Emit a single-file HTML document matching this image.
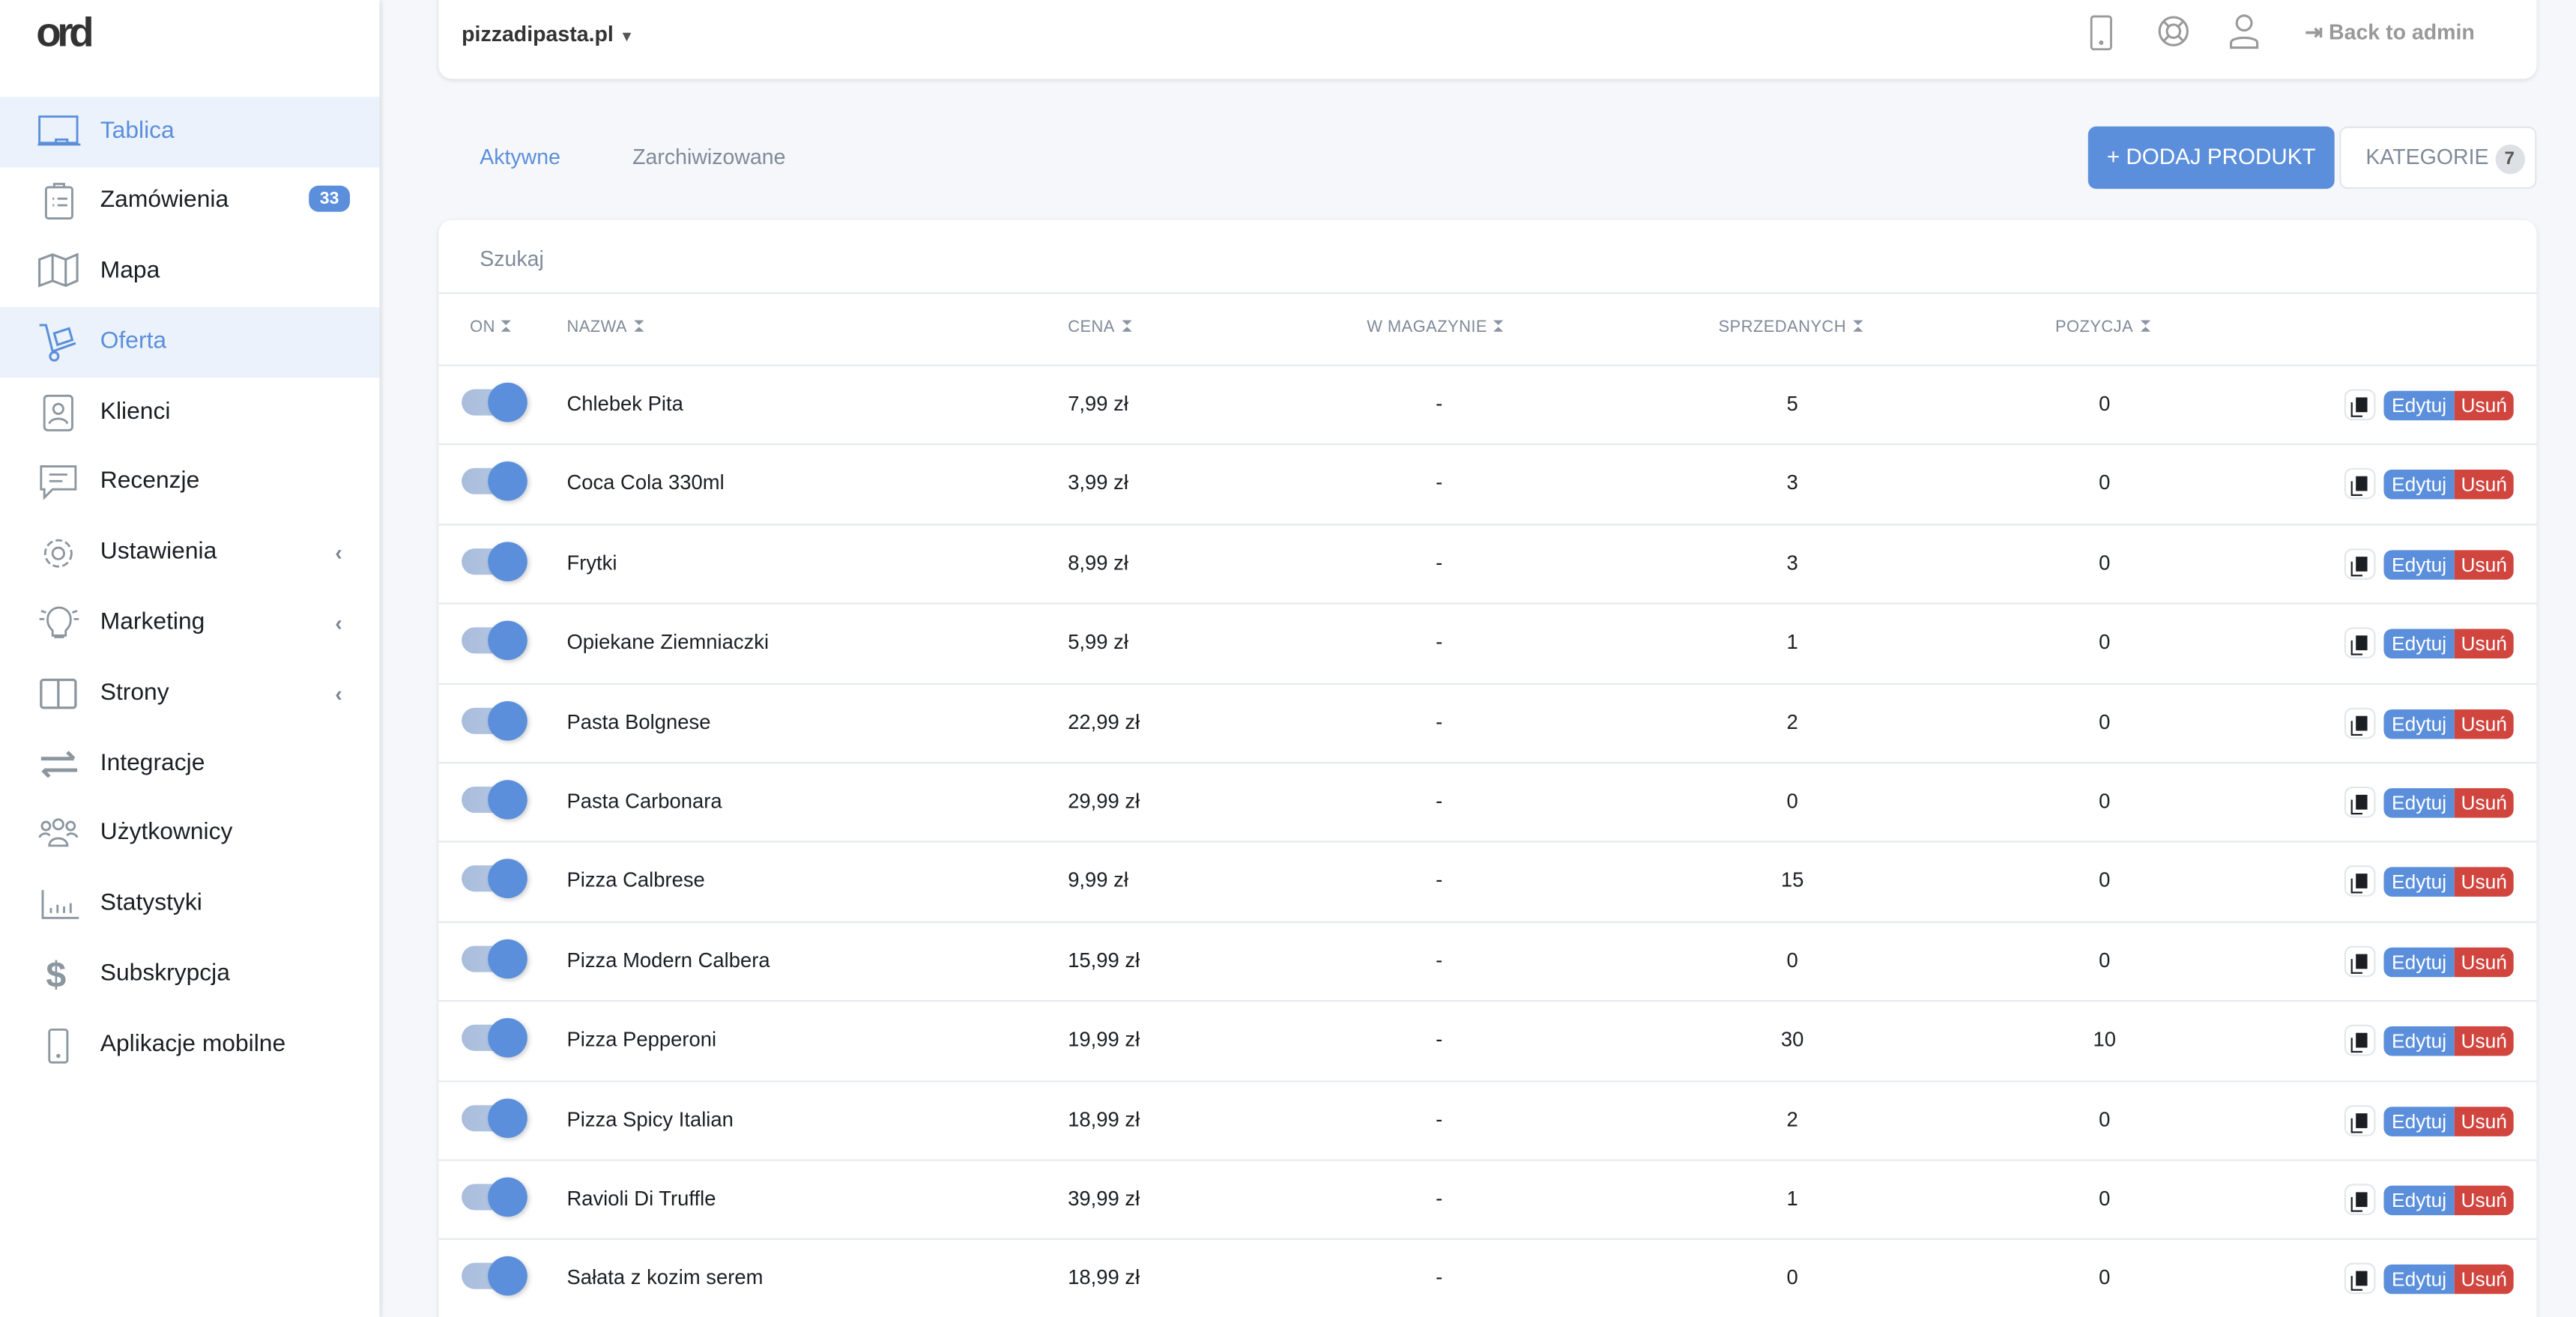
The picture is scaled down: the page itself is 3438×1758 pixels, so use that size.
<!DOCTYPE html>
<html><head><meta charset="utf-8"><style>
*{margin:0;padding:0;box-sizing:border-box}
html,body{width:3438px;height:1758px;overflow:hidden;background:#f6f7fb;font-family:"Liberation Sans",sans-serif}
#w{position:absolute;left:0;top:0;width:3438px;height:1758px;overflow:hidden}
#s{position:absolute;left:0;top:0;width:1568px;height:802px;overflow:hidden;transform:scale(2.19260,2.1920);transform-origin:0 0}
.a{position:absolute}
.side{left:0;top:0;width:231px;height:802px;background:#fff;box-shadow:1px 0 3px rgba(0,0,0,.12)}
.it{position:absolute;left:0;width:231px;height:43px;font-size:14.5px;color:#1b1f24;line-height:43px}
.it.on{background:#ecf2fb;color:#5b8fdb}
.it span{position:absolute;left:61px}
.it svg{position:absolute;left:23px;top:10px}
.chev{position:absolute;left:204px;color:#7b8591;font-size:13px;font-weight:bold}
.card{background:#fff;border-radius:8px;box-shadow:0 1px 3px rgba(0,0,0,.1)}
.row{position:absolute;left:267px;width:1277px;height:48.4px;border-top:1px solid #e6e9ee;font-size:12.5px;color:#1b1f24}
.row div{position:absolute;top:16px}
.tg{left:14px;top:14px!important;width:38px;height:16px;border-radius:8px;background:linear-gradient(90deg,#a9bcdb,#b9cde8)}
.tg i{position:absolute;right:-2px;top:-4px;width:24px;height:24px;border-radius:50%;background:#5b8fdb;box-shadow:1px 1px 3px rgba(0,0,0,.2)}
.c{text-align:center;width:60px}
.cp{left:1160px;top:14px!important;width:19px;height:19px;border:1px solid #e3e6ea;border-radius:5px;background:#fff}
.cp b{position:absolute;left:6px;top:4px;width:7px;height:9px;background:#1b1f24;box-shadow:-2px 2px 0 -0 #fff,-3px 3px 0 #1b1f24}
.ed{left:1184px;top:15px!important;width:43px;height:18px;background:#5b8fdb;color:#fff;border-radius:5px 0 0 5px;text-align:center;line-height:18px;font-size:12px}
.us{left:1227px;top:15px!important;width:36px;height:18px;background:#d1453f;color:#fff;border-radius:0 5px 5px 0;text-align:center;line-height:18px;font-size:12px}
.th{position:absolute;top:194px;font-size:10px;color:#7f8a99;letter-spacing:.2px}
.th:after{content:"";display:inline-block;margin-left:4px;width:0;height:0;border-left:3px solid transparent;border-right:3px solid transparent;border-bottom:3px solid #8b95a3;border-top:3px solid #8b95a3;height:1px;vertical-align:0px}
</style></head><body><div id="w"><div id="s">
<div class="a side">
<div class="a" style="left:22px;top:6px;font-size:25px;font-weight:bold;color:#333;letter-spacing:-2.5px">ord</div>
<div class="it on" style="top:59px"><svg width="26" height="22" viewBox="0 0 26 22" fill="none" stroke="#5b8fdb" stroke-width="1.3"><rect x="1" y="2" width="23" height="16"/><path d="M0 19h26M11 19v-3h7v3"/></svg><span>Tablica</span></div>
<div class="it" style="top:101px"><svg width="26" height="24" viewBox="0 0 26 24" fill="none" stroke="#8c969f" stroke-width="1.3"><rect x="5" y="3" width="16" height="19" rx="1.5"/><path d="M10 3V1h6v2M9 10h1M12 10h6M9 14h1M12 14h6"/></svg><span>Zamówienia</span><div class="a" style="left:188px;top:12px;width:25px;height:16px;border-radius:6px;background:#5b8fdb;color:#fff;font-size:10.5px;font-weight:bold;text-align:center;line-height:16px">33</div></div>
<div class="it" style="top:144px"><svg width="26" height="22" viewBox="0 0 26 22" fill="none" stroke="#8c969f" stroke-width="1.4"><path d="M1 4l8-3 8 3 7-3v16l-7 3-8-3-8 3z M9 1v16M17 4v16"/></svg><span>Mapa</span></div>
<div class="it on" style="top:187px"><svg width="26" height="24" viewBox="0 0 26 24" fill="none" stroke="#5b8fdb" stroke-width="1.4"><path d="M1 1h4l4 16 14-5M10 6l9-3 2 7-9 3z"/><circle cx="10" cy="20" r="2.5"/></svg><span>Oferta</span></div>
<div class="it" style="top:230px"><svg width="26" height="24" viewBox="0 0 26 24" fill="none" stroke="#8c969f" stroke-width="1.3"><rect x="4" y="1" width="17" height="21" rx="2"/><circle cx="12.5" cy="9" r="3"/><path d="M7 18c1-4 10-4 11 0"/></svg><span>Klienci</span></div>
<div class="it" style="top:272px"><svg width="26" height="24" viewBox="0 0 26 24" fill="none" stroke="#8c969f" stroke-width="1.3"><path d="M2 2h21v14H9l-5 5v-5H2z M7 7h11M7 11h8"/></svg><span>Recenzje</span></div>
<div class="it" style="top:315px"><svg width="26" height="24" viewBox="0 0 26 24" fill="none" stroke="#8c969f" stroke-width="1.3"><circle cx="12.5" cy="12" r="3.5"/><circle cx="12.5" cy="12" r="8" stroke-dasharray="4 2"/></svg><span>Ustawienia</span><div class="chev">‹</div></div>
<div class="it" style="top:358px"><svg width="26" height="24" viewBox="0 0 26 24" fill="none" stroke="#8c969f" stroke-width="1.3"><path d="M9 16c-3-3-3-5-3-7a7 7 0 0114 0c0 2 0 4-3 7v3h-8zM10 20h6M1 9h3M22 9h3M2 4l3 1M24 4l-3 1"/></svg><span>Marketing</span><div class="chev">‹</div></div>
<div class="it" style="top:401px"><svg width="26" height="24" viewBox="0 0 26 24" fill="none" stroke="#8c969f" stroke-width="1.5"><rect x="2" y="3" width="21" height="17" rx="1.5"/><path d="M12.5 3v17"/></svg><span>Strony</span><div class="chev">‹</div></div>
<div class="it" style="top:444px"><svg width="26" height="24" viewBox="0 0 26 24" fill="none" stroke="#8c969f" stroke-width="2.2"><path d="M2 8h20M18 4l4 4M24 15H4M7 19l-4-4"/></svg><span>Integracje</span></div>
<div class="it" style="top:486px"><svg width="26" height="24" viewBox="0 0 26 24" fill="none" stroke="#8c969f" stroke-width="1.3"><circle cx="5" cy="7" r="2.5"/><circle cx="12.5" cy="6" r="3"/><circle cx="20" cy="7" r="2.5"/><path d="M1 14c1-3 6-3 6-1M24 14c-1-3-6-3-6-1M7 19c0-6 11-6 11 0z"/></svg><span>Użytkownicy</span></div>
<div class="it" style="top:529px"><svg width="26" height="24" viewBox="0 0 26 24" fill="none" stroke="#8c969f" stroke-width="1.3"><path d="M3 3v17h22M8 17v-3M12 17v-5M16 17v-4M20 17v-6"/></svg><span>Statystyki</span></div>
<div class="it" style="top:572px"><span style="left:28px;font-size:22px;font-weight:bold;color:#8c969f">$</span><span>Subskrypcja</span></div>
<div class="it" style="top:615px"><svg width="26" height="24" viewBox="0 0 26 24" fill="none" stroke="#8c969f" stroke-width="1.3"><rect x="7" y="2" width="11" height="20" rx="1.5"/><circle cx="12.5" cy="18" r=".6"/></svg><span>Aplikacje mobilne</span></div>
</div>

<div class="a card" style="left:267px;top:-10px;width:1277px;height:58px;border-radius:0 0 8px 8px"></div>
<div class="a" style="left:281px;top:13px;font-size:13px;font-weight:bold;color:#333">pizzadipasta.pl <span style="font-size:9px;color:#555">▼</span></div>
<svg class="a" style="left:1271px;top:9px" width="16" height="22" viewBox="0 0 16 22" fill="none" stroke="#999" stroke-width="1.3"><rect x="2" y="1" width="12" height="20" rx="1.5"/><circle cx="8" cy="17" r=".7"/></svg>
<svg class="a" style="left:1313px;top:9px" width="20" height="20" viewBox="0 0 20 20" fill="none" stroke="#999" stroke-width="1.4"><circle cx="10" cy="10" r="8.5"/><circle cx="10" cy="10" r="4"/><path d="M4 4l3 3M16 4l-3 3M4 16l3-3M16 16l-3-3"/></svg>
<svg class="a" style="left:1356px;top:8px" width="20" height="22" viewBox="0 0 20 22" fill="none" stroke="#999" stroke-width="1.4"><circle cx="10" cy="6" r="4.5"/><path d="M2 21v-3c0-4 16-4 16 0v3z"/></svg>
<div class="a" style="left:1403px;top:12px;font-size:13px;font-weight:bold;color:#999">⇥ Back to admin</div>

<div class="a" style="left:292px;top:88px;font-size:13px;color:#5b8fdb">Aktywne</div>
<div class="a" style="left:385px;top:88px;font-size:13px;color:#7f8a99">Zarchiwizowane</div>
<div class="a" style="left:1271px;top:77px;width:150px;height:38px;background:#5b8fdb;border-radius:5px;color:#fff;font-size:13.5px;line-height:38px;text-align:center">+ DODAJ PRODUKT</div>
<div class="a" style="left:1424px;top:77px;width:120px;height:38px;background:#fff;border:1px solid #e3e6ea;border-radius:5px;color:#7f8a99;font-size:13px;line-height:36px;padding-left:15px">KATEGORIE <span style="display:inline-block;width:18px;height:18px;border-radius:50%;background:#dde1e5;color:#555;font-size:11px;line-height:18px;text-align:center;font-weight:bold">7</span></div>

<div class="a card" style="left:267px;top:134px;width:1277px;height:680px"></div>
<div class="a" style="left:292px;top:150px;font-size:13px;color:#7f8a99">Szukaj</div>
<div class="a" style="left:267px;top:178px;width:1277px;border-top:1px solid #e6e9ee"></div>
<div class="th" style="left:286px">ON</div><div class="th" style="left:345px">NAZWA</div><div class="th" style="left:650px">CENA</div><div class="th" style="left:832px">W MAGAZYNIE</div><div class="th" style="left:1046px">SPRZEDANYCH</div><div class="th" style="left:1251px">POZYCJA</div>

<div class="row" style="top:222px"><div class="tg"><i></i></div><div style="left:78px">Chlebek Pita</div><div style="left:383px">7,99 zł</div><div class="c" style="left:579px">-</div><div class="c" style="left:794px">5</div><div class="c" style="left:984px">0</div><div class="cp"><b></b></div><div class="ed">Edytuj</div><div class="us">Usuń</div></div>
<div class="row" style="top:270.4px"><div class="tg"><i></i></div><div style="left:78px">Coca Cola 330ml</div><div style="left:383px">3,99 zł</div><div class="c" style="left:579px">-</div><div class="c" style="left:794px">3</div><div class="c" style="left:984px">0</div><div class="cp"><b></b></div><div class="ed">Edytuj</div><div class="us">Usuń</div></div>
<div class="row" style="top:318.8px"><div class="tg"><i></i></div><div style="left:78px">Frytki</div><div style="left:383px">8,99 zł</div><div class="c" style="left:579px">-</div><div class="c" style="left:794px">3</div><div class="c" style="left:984px">0</div><div class="cp"><b></b></div><div class="ed">Edytuj</div><div class="us">Usuń</div></div>
<div class="row" style="top:367.2px"><div class="tg"><i></i></div><div style="left:78px">Opiekane Ziemniaczki</div><div style="left:383px">5,99 zł</div><div class="c" style="left:579px">-</div><div class="c" style="left:794px">1</div><div class="c" style="left:984px">0</div><div class="cp"><b></b></div><div class="ed">Edytuj</div><div class="us">Usuń</div></div>
<div class="row" style="top:415.6px"><div class="tg"><i></i></div><div style="left:78px">Pasta Bolgnese</div><div style="left:383px">22,99 zł</div><div class="c" style="left:579px">-</div><div class="c" style="left:794px">2</div><div class="c" style="left:984px">0</div><div class="cp"><b></b></div><div class="ed">Edytuj</div><div class="us">Usuń</div></div>
<div class="row" style="top:464px"><div class="tg"><i></i></div><div style="left:78px">Pasta Carbonara</div><div style="left:383px">29,99 zł</div><div class="c" style="left:579px">-</div><div class="c" style="left:794px">0</div><div class="c" style="left:984px">0</div><div class="cp"><b></b></div><div class="ed">Edytuj</div><div class="us">Usuń</div></div>
<div class="row" style="top:512.4px"><div class="tg"><i></i></div><div style="left:78px">Pizza Calbrese</div><div style="left:383px">9,99 zł</div><div class="c" style="left:579px">-</div><div class="c" style="left:794px">15</div><div class="c" style="left:984px">0</div><div class="cp"><b></b></div><div class="ed">Edytuj</div><div class="us">Usuń</div></div>
<div class="row" style="top:560.8px"><div class="tg"><i></i></div><div style="left:78px">Pizza Modern Calbera</div><div style="left:383px">15,99 zł</div><div class="c" style="left:579px">-</div><div class="c" style="left:794px">0</div><div class="c" style="left:984px">0</div><div class="cp"><b></b></div><div class="ed">Edytuj</div><div class="us">Usuń</div></div>
<div class="row" style="top:609.2px"><div class="tg"><i></i></div><div style="left:78px">Pizza Pepperoni</div><div style="left:383px">19,99 zł</div><div class="c" style="left:579px">-</div><div class="c" style="left:794px">30</div><div class="c" style="left:984px">10</div><div class="cp"><b></b></div><div class="ed">Edytuj</div><div class="us">Usuń</div></div>
<div class="row" style="top:657.6px"><div class="tg"><i></i></div><div style="left:78px">Pizza Spicy Italian</div><div style="left:383px">18,99 zł</div><div class="c" style="left:579px">-</div><div class="c" style="left:794px">2</div><div class="c" style="left:984px">0</div><div class="cp"><b></b></div><div class="ed">Edytuj</div><div class="us">Usuń</div></div>
<div class="row" style="top:706px"><div class="tg"><i></i></div><div style="left:78px">Ravioli Di Truffle</div><div style="left:383px">39,99 zł</div><div class="c" style="left:579px">-</div><div class="c" style="left:794px">1</div><div class="c" style="left:984px">0</div><div class="cp"><b></b></div><div class="ed">Edytuj</div><div class="us">Usuń</div></div>
<div class="row" style="top:754.4px"><div class="tg"><i></i></div><div style="left:78px">Sałata z kozim serem</div><div style="left:383px">18,99 zł</div><div class="c" style="left:579px">-</div><div class="c" style="left:794px">0</div><div class="c" style="left:984px">0</div><div class="cp"><b></b></div><div class="ed">Edytuj</div><div class="us">Usuń</div></div>
</div></div></body></html>
